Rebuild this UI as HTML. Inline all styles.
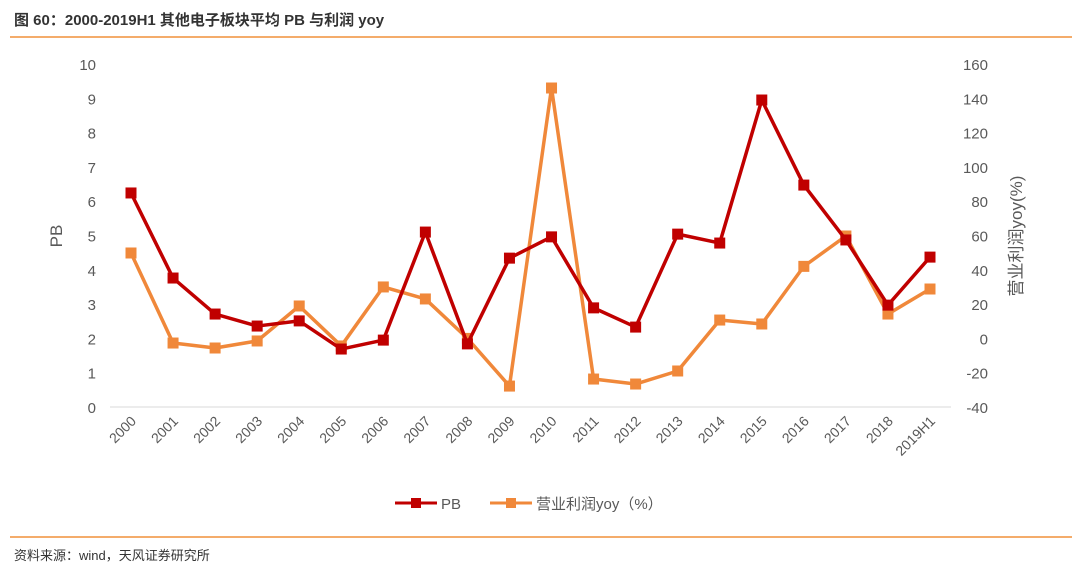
<!DOCTYPE html>
<html><head><meta charset="utf-8"><style>
body{margin:0;background:#fff;width:1080px;height:574px;overflow:hidden;font-family:"Liberation Sans","Noto Sans CJK SC",sans-serif;}
</style></head><body>
<svg id="c" width="1080" height="574" xmlns="http://www.w3.org/2000/svg">
<text x="14" y="25" font-size="15" font-weight="bold" fill="#333">图 60：2000-2019H1 其他电子板块平均 PB 与利润 yoy</text>
<line x1="10" y1="37" x2="1072" y2="37" stroke="#f0913a" stroke-width="1.5"/>
<line x1="10" y1="537" x2="1072" y2="537" stroke="#f0913a" stroke-width="1.5"/>
<text x="14" y="560" font-size="13" fill="#333">资料来源：wind，天风证券研究所</text>
<text transform="translate(62,236) rotate(-90)" font-size="17" fill="#595959" text-anchor="middle">PB</text>
<text transform="translate(1022,236) rotate(-90)" font-size="17" fill="#595959" text-anchor="middle">营业利润yoy(%)</text>
<g id="g"></g>
<g>
<line x1="395" y1="503" x2="437" y2="503" stroke="#c00000" stroke-width="3"/>
<rect x="411" y="498" width="10" height="10" fill="#c00000"/>
<text x="441" y="509" font-size="15" fill="#595959">PB</text>
<line x1="490" y1="503" x2="532" y2="503" stroke="#f0883a" stroke-width="3"/>
<rect x="506" y="498" width="10" height="10" fill="#f0883a"/>
<text x="536" y="509" font-size="15" fill="#595959">营业利润yoy（%）</text>
</g>
</svg>
<script>
const categories=["2000","2001","2002","2003","2004","2005","2006","2007","2008","2009","2010","2011","2012","2013","2014","2015","2016","2017","2018","2019H1"];
const pbValues=[6.24,3.76,2.71,2.36,2.51,1.69,1.95,5.1,1.84,4.34,4.96,2.89,2.33,5.04,4.78,8.95,6.47,4.87,2.97,4.37];
const yoyValues=[49.8,-2.7,-5.6,-1.5,18.9,-4.4,30,23,0,-27.8,146,-23.7,-26.6,-19,10.7,8.4,42,59.7,14.2,28.8];
const leftTicks=[0,1,2,3,4,5,6,7,8,9,10];
const rightTicks=[-40,-20,0,20,40,60,80,100,120,140,160];
const NS="http://www.w3.org/2000/svg";
const g=document.getElementById('g');
const plotTop=64,plotBot=407,xStart=131,xEnd=930;
const x=i=>xStart+i*(xEnd-xStart)/(categories.length-1);
const yL=v=>plotBot-(v-0)/(10-0)*(plotBot-plotTop);
const yR=v=>plotBot-(v+40)/(200)*(plotBot-plotTop);
function mk(t,a){const e=document.createElementNS(NS,t);for(const k in a)e.setAttribute(k,a[k]);g.appendChild(e);return e;}
leftTicks.forEach(v=>{const t=mk('text',{x:96,y:yL(v)+6,'font-size':15,fill:'#595959','text-anchor':'end'});t.textContent=v;

});
rightTicks.forEach(v=>{const t=mk('text',{x:988,y:yR(v)+6,'font-size':15,fill:'#595959','text-anchor':'end'});t.textContent=v;

});
const ax=mk('line',{x1:110,y1:plotBot,x2:951,y2:plotBot,stroke:'#d9d9d9','stroke-width':1});


categories.forEach((c,i)=>{const t=mk('text',{x:x(i)+6,y:422,'font-size':14,fill:'#595959','text-anchor':'end',transform:`rotate(-45 ${x(i)+6} 422)`});t.textContent=c;

});
function series(vals,fy,col,name){
const p=mk('polyline',{points:vals.map((v,i)=>x(i)+','+fy(v)).join(' '),fill:'none',stroke:col,'stroke-width':3.5,'stroke-linejoin':'round'});


vals.forEach((v,i)=>{const r=mk('rect',{x:x(i)-5.5,y:fy(v)-5.5,width:11,height:11,fill:col});

});
}
series(yoyValues,yR,'#f0883a','yoy');
series(pbValues,yL,'#c00000','pb');
</script>
</body></html>
